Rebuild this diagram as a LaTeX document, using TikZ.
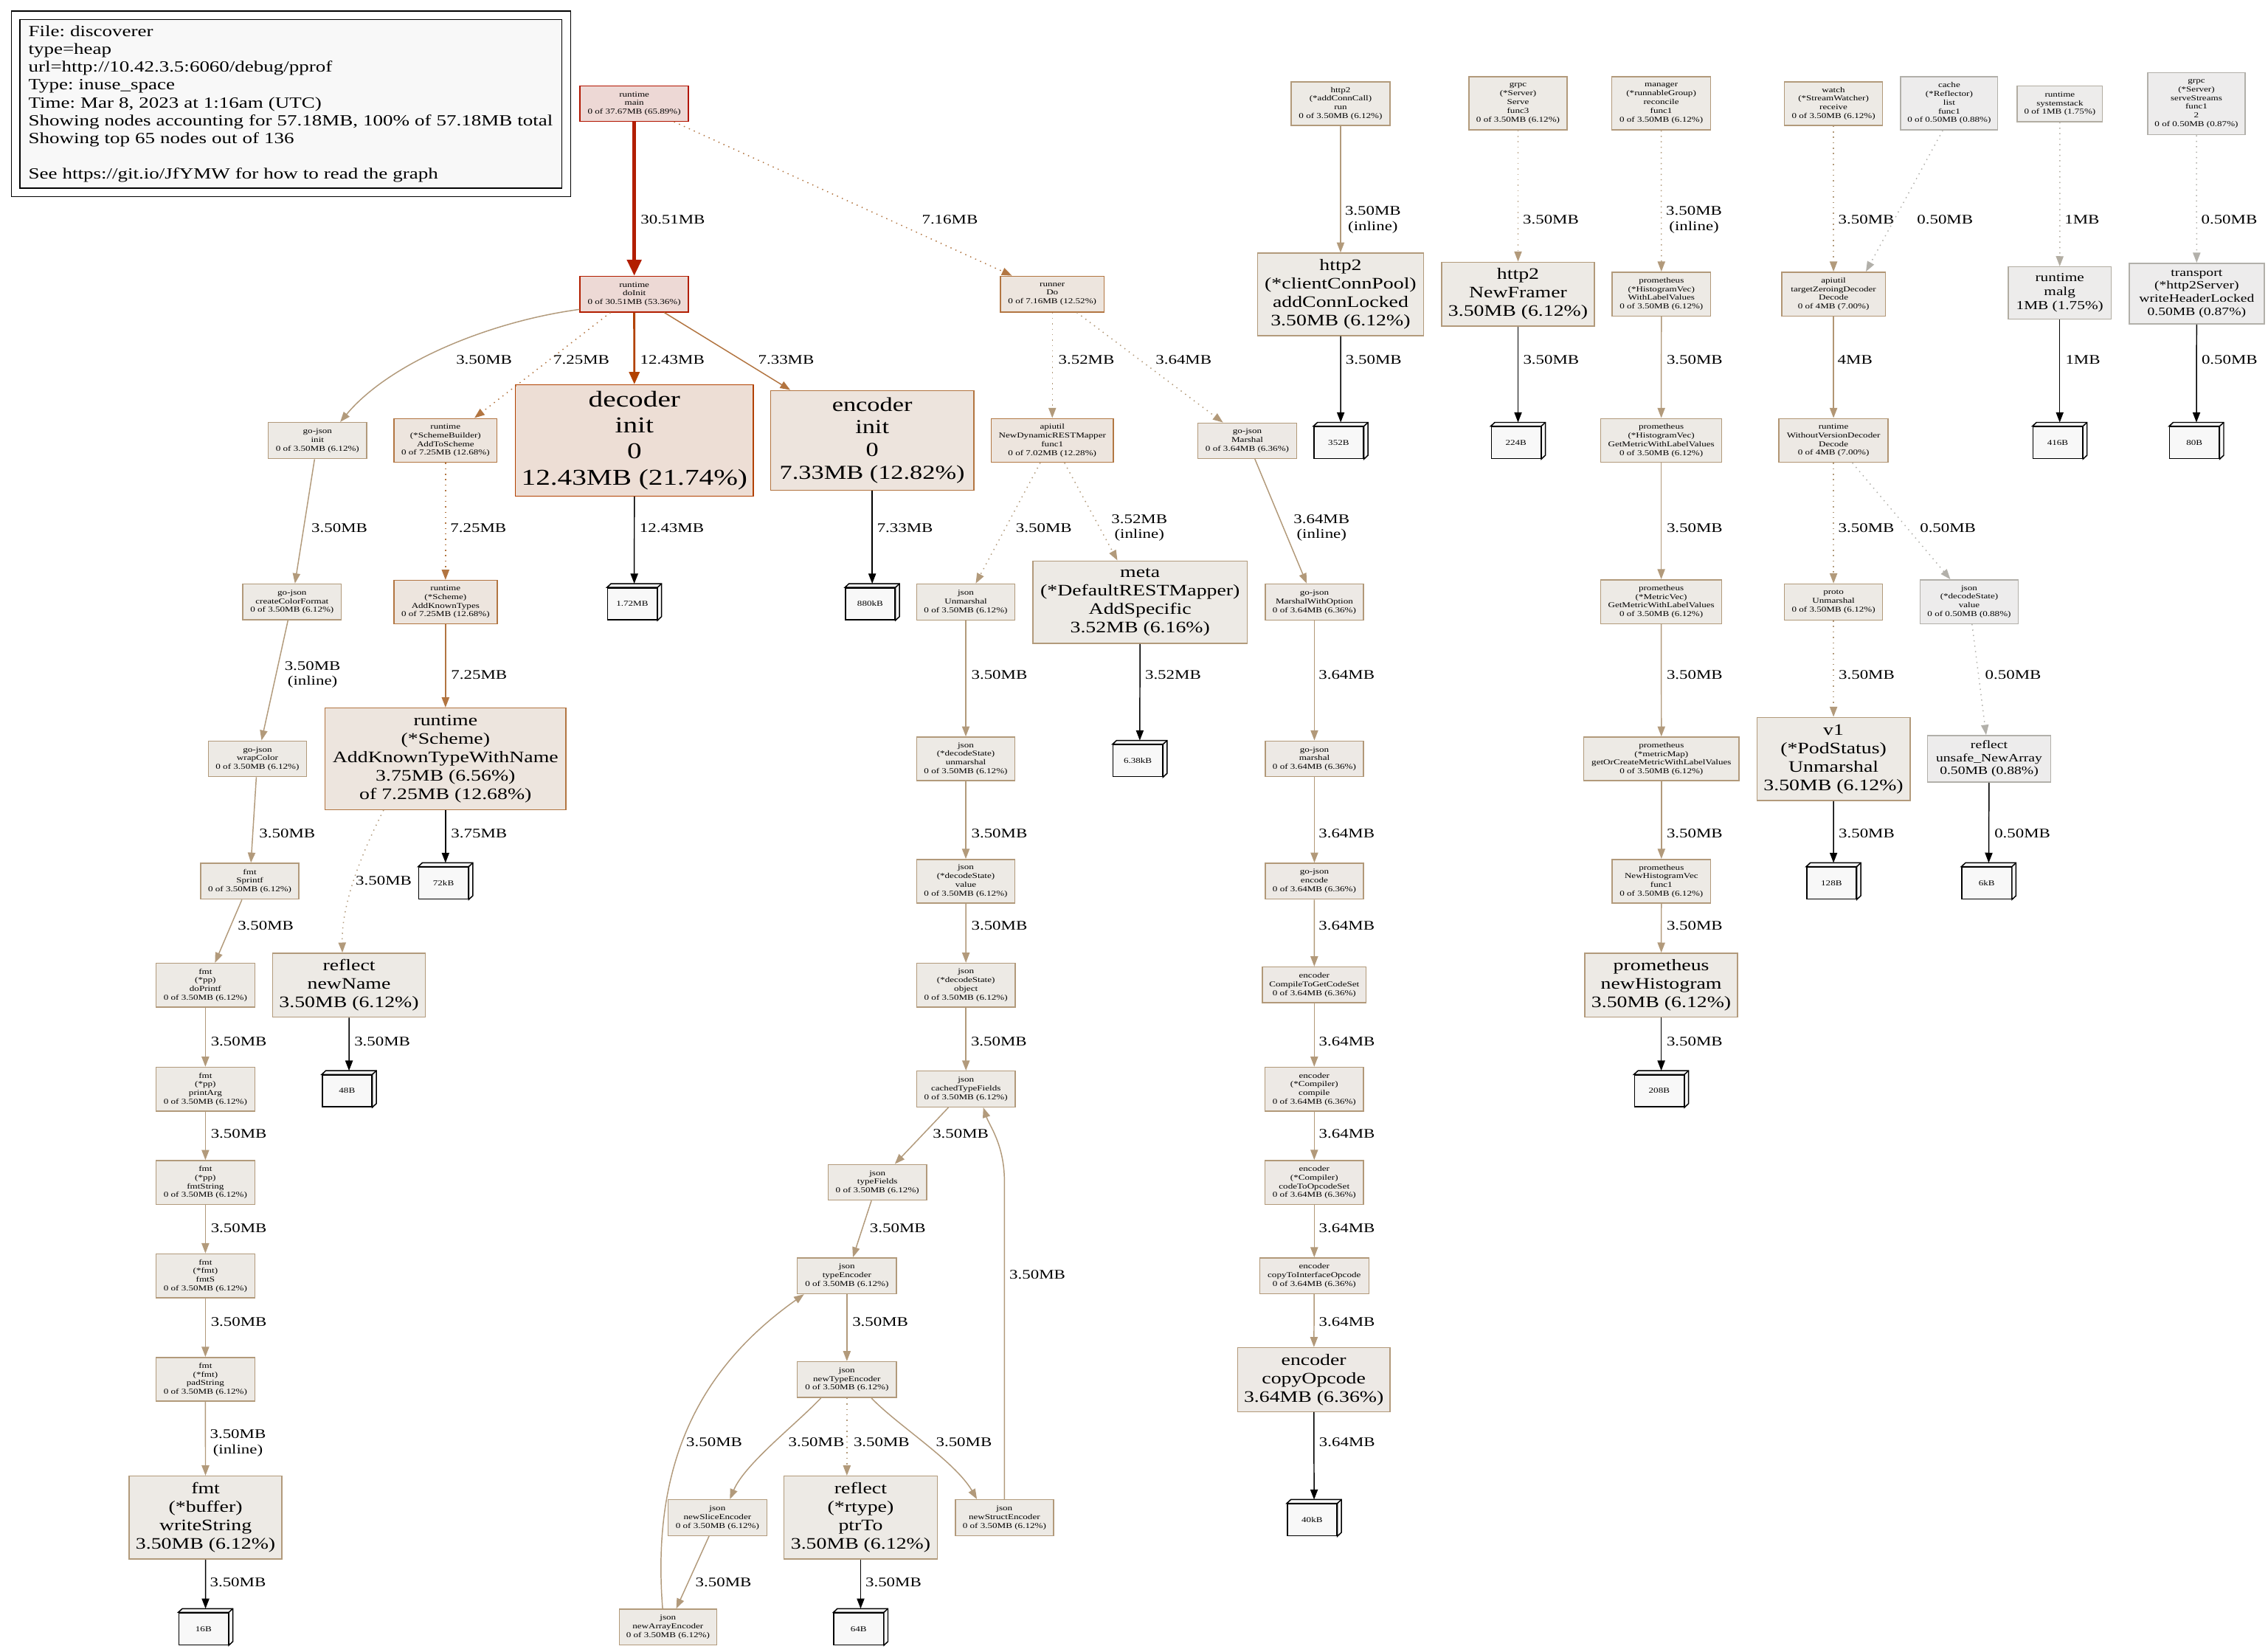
\documentclass[tikz,border=0pt]{standalone}
\usepackage{fontspec}
\setmainfont{Liberation Serif}[FakeStretch=1.28]
\usetikzlibrary{arrows.meta,fit}
\frenchspacing

% 颜色 (填充 f..., 边框 d...)
\definecolor{fMain}{HTML}{EDD8D5}\definecolor{dMain}{HTML}{B21500}
\definecolor{fInit}{HTML}{EDD9D5}\definecolor{dInit}{HTML}{B21E00}
\definecolor{fDec}{HTML}{EDDED5}\definecolor{dDec}{HTML}{B24100}
\definecolor{fEnc}{HTML}{EDE4DD}\definecolor{dEnc}{HTML}{B27440}
\definecolor{fSch}{HTML}{EDE5DE}\definecolor{dSch}{HTML}{B27541}
\definecolor{dDo}{HTML}{B27642}\definecolor{dRm}{HTML}{B27844}
\definecolor{fFour}{HTML}{EDE9E4}\definecolor{dFour}{HTML}{B29674}
\definecolor{fJs}{HTML}{EDE9E5}\definecolor{dJs}{HTML}{B29979}
\definecolor{fStd}{HTML}{EDEAE5}\definecolor{dStd}{HTML}{B29A7B}
\definecolor{fOne}{HTML}{EDECEB}\definecolor{dOne}{HTML}{B2ADA2}
\definecolor{fHalf}{HTML}{EDECEC}\definecolor{dHalf}{HTML}{B2B0AA}
\definecolor{leafgray}{HTML}{F8F8F8}

\newcommand{\gvsize}[1]{\fontsize{\fpeval{0.652*#1}}{\fpeval{0.75*#1}}\selectfont}

\tikzset{
  fn/.style={draw, line width=0.75pt, inner xsep=2pt, inner ysep=1pt, align=center, font=\gvsize{8}},
  sz/.style 2 args={minimum width=#1pt, minimum height=#2pt},
  big/.style={font=\gvsize{17}},
  nMain/.style={fill=fMain, draw=dMain},
  nInit/.style={fill=fInit, draw=dInit},
  nDec/.style={fill=fDec, draw=dDec},
  nEnc/.style={fill=fEnc, draw=dEnc},
  nSch/.style={fill=fSch, draw=dSch},
  nDo/.style={fill=fSch, draw=dDo},
  nRm/.style={fill=fSch, draw=dRm},
  nFour/.style={fill=fFour, draw=dFour},
  nJs/.style={fill=fJs, draw=dJs},
  nStd/.style={fill=fStd, draw=dStd},
  nOne/.style={fill=fOne, draw=dOne},
  nHalf/.style={fill=fHalf, draw=dHalf},
  leaf/.style={draw=black, fill=leafgray, line width=0.75pt, font=\gvsize{8}, minimum width=34.2pt, minimum height=22pt, inner sep=0pt},
  ed/.style={line width=0.75pt, -{Triangle[length=7pt,width=5.2pt]}},
  ed2/.style={line width=1.5pt, -{Triangle[length=8.5pt,width=7.2pt]}},
  ed3/.style={line width=2.25pt, -{Triangle[length=11pt,width=9.8pt]}},
  resid/.style={dash pattern=on 0.75pt off 3pt},
  elab/.style={font=\gvsize{14}, text=black, inner sep=0pt, anchor=west, align=center},
}

\begin{document}
\begin{tikzpicture}[x=1pt, y=-1pt]
    \fill[white] (0,0) rectangle (1568,1140);

    % 图例
    \node[fill=leafgray, draw=black, line width=0.75pt, minimum height=116.4pt, text width=363pt, inner xsep=5.9pt, align=left, font=\gvsize{16.5}] (legend) at (201.15,71.8)
        {File: discoverer\\type=heap\\url=http://10.42.3.5:6060/debug/pprof\\Type: inuse\_space\\Time: Mar 8, 2023 at 1:16am (UTC)\\Showing nodes accounting for 57.18MB, 100\% of 57.18MB total\\Showing top 65 nodes out of 136\\[12pt]See https://git.io/JfYMW for how to read the graph};
    \node[draw=black, line width=0.75pt, fit=(legend), inner sep=5.5pt] (legendframe) {};

    % 第一行
    \node[fn, nMain, sz={75}{24.3}] (main) at (438.5,71.7) {runtime\\main\\0 of 37.67MB (65.89\%)};
    \node[fn, nStd, sz={68.4}{30.2}] (h2run) at (926.8,71.6) {http2\\(*addConnCall)\\run\\0 of 3.50MB (6.12\%)};
    \node[fn, nStd, sz={67.8}{36.8}] (grpcserve) at (1049.5,71.4) {grpc\\(*Server)\\Serve\\func3\\0 of 3.50MB (6.12\%)};
    \node[fn, nStd, sz={68.4}{36.8}] (mgr) at (1148.5,71.4) {manager\\(*runnableGroup)\\reconcile\\func1\\0 of 3.50MB (6.12\%)};
    \node[fn, nStd, sz={67.9}{30.2}] (watch) at (1267.6,71.6) {watch\\(*StreamWatcher)\\receive\\0 of 3.50MB (6.12\%)};
    \node[fn, nHalf, sz={67.1}{36.8}] (cache) at (1347.6,71.4) {cache\\(*Reflector)\\list\\func1\\0 of 0.50MB (0.88\%)};
    \node[fn, nOne, sz={59}{24.7}] (sysst) at (1424.1,71.8) {runtime\\systemstack\\0 of 1MB (1.75\%)};
    \node[fn, nHalf, sz={67.3}{43}] (sstr) at (1518.5,71.7) {grpc\\(*Server)\\serveStreams\\func1\\2\\0 of 0.50MB (0.87\%)};

    % 第二行
    \node[fn, nInit, sz={75}{24.7}] (dinit) at (438.5,203.3) {runtime\\doInit\\0 of 30.51MB (53.36\%)};
    \node[fn, nDo, sz={71.5}{24.7}] (rdo) at (727.5,203.3) {runner\\Do\\0 of 7.16MB (12.52\%)};
    \node[fn, nStd, big, sz={114.8}{57}] (h2acl) at (926.8,203.5) {http2\\(*clientConnPool)\\addConnLocked\\3.50MB (6.12\%)};
    \node[fn, nStd, big, sz={105.6}{44.2}] (h2nf) at (1049.5,203.3) {http2\\NewFramer\\3.50MB (6.12\%)};
    \node[fn, nStd, sz={68.1}{30.3}] (promwlv) at (1148.6,203.3) {prometheus\\(*HistogramVec)\\WithLabelValues\\0 of 3.50MB (6.12\%)};
    \node[fn, nFour, sz={71.6}{30.3}] (tzd) at (1267.6,203.3) {apiutil\\targetZeroingDecoder\\Decode\\0 of 4MB (7.00\%)};
    \node[fn, nOne, font=\gvsize{13}, sz={71.3}{36}] (malg) at (1424,202.5) {runtime\\malg\\1MB (1.75\%)};
    \node[fn, nHalf, font=\gvsize{12}, sz={93.4}{42}] (transp) at (1518.7,203) {transport\\(*http2Server)\\writeHeaderLocked\\0.50MB (0.87\%)};

    % 第三行
    \node[fn, nStd, sz={68}{25}] (gjinit) at (219.5,304.6) {go-json\\init\\0 of 3.50MB (6.12\%)};
    \node[fn, nSch, sz={71.3}{30.3}] (addsch) at (308,304.5) {runtime\\(*SchemeBuilder)\\AddToScheme\\0 of 7.25MB (12.68\%)};
    \node[fn, nDec, font=\gvsize{24}, sz={164.5}{77}] (decinit) at (438.6,304.5) {decoder\\init\\0\\12.43MB (21.74\%)};
    \node[fn, nEnc, font=\gvsize{21}, sz={140.5}{69}] (encinit) at (603,304.5) {encoder\\init\\0\\7.33MB (12.82\%)};
    \node[fn, nRm, sz={84.3}{30.3}] (ndrm) at (727.5,304.5) {apiutil\\NewDynamicRESTMapper\\func1\\0 of 7.02MB (12.28\%)};
    \node[fn, nJs, sz={68.3}{24.5}] (gjmarsh) at (862.3,304.7) {go-json\\Marshal\\0 of 3.64MB (6.36\%)};
    \node[fn, nStd, sz={83.6}{30.3}] (promhgm) at (1148.5,304.5) {prometheus\\(*HistogramVec)\\GetMetricWithLabelValues\\0 of 3.50MB (6.12\%)};
    \node[fn, nFour, sz={75.4}{30.3}] (wvd) at (1267.6,304.5) {runtime\\WithoutVersionDecoder\\Decode\\0 of 4MB (7.00\%)};
    \node[leaf] (l352) at (925.5,306) {352B};
    \node[leaf] (l224) at (1048.1,306) {224B};
    \node[leaf] (l416) at (1422.6,306) {416B};
    \node[leaf] (l80) at (1517.1,306) {80B};

    % 第四行
    \node[fn, nStd, sz={68.2}{24.7}] (gjccf) at (201.9,416.1) {go-json\\createColorFormat\\0 of 3.50MB (6.12\%)};
    \node[fn, nSch, sz={71.4}{29.9}] (akt) at (308,416.2) {runtime\\(*Scheme)\\AddKnownTypes\\0 of 7.25MB (12.68\%)};
    \node[leaf] (l172) at (437.1,417.5) {1.72MB};
    \node[leaf] (l880) at (601.6,417.5) {880kB};
    \node[fn, nStd, sz={67.8}{24.9}] (jun) at (667.7,416.2) {json\\Unmarshal\\0 of 3.50MB (6.12\%)};
    \node[fn, nStd, big, sz={148.4}{57}] (meta) at (788.2,416.3) {meta\\(*DefaultRESTMapper)\\AddSpecific\\3.52MB (6.16\%)};
    \node[fn, nJs, sz={67.9}{24.9}] (gjmwo) at (908.7,416.2) {go-json\\MarshalWithOption\\0 of 3.64MB (6.36\%)};
    \node[fn, nStd, sz={83.6}{30.3}] (prommgm) at (1148.5,416) {prometheus\\(*MetricVec)\\GetMetricWithLabelValues\\0 of 3.50MB (6.12\%)};
    \node[fn, nStd, sz={67.8}{24.9}] (proto) at (1267.6,416.2) {proto\\Unmarshal\\0 of 3.50MB (6.12\%)};
    \node[fn, nHalf, sz={67.8}{30.3}] (jdsv5) at (1361.4,416) {json\\(*decodeState)\\value\\0 of 0.50MB (0.88\%)};

    % 第五行
    \node[fn, nStd, sz={68}{24.7}] (gjwc) at (178,524.6) {go-json\\wrapColor\\0 of 3.50MB (6.12\%)};
    \node[fn, nSch, big, sz={166.4}{70.2}] (akn) at (308,524.6) {runtime\\(*Scheme)\\AddKnownTypeWithName\\3.75MB (6.56\%)\\of 7.25MB (12.68\%)};
    \node[fn, nStd, sz={67.8}{30.1}] (jdsu) at (667.7,524.6) {json\\(*decodeState)\\unmarshal\\0 of 3.50MB (6.12\%)};
    \node[leaf] (l638) at (786.6,525.9) {6.38kB};
    \node[fn, nJs, sz={67.9}{24.7}] (gjm) at (908.7,524.6) {go-json\\marshal\\0 of 3.64MB (6.36\%)};
    \node[fn, nStd, sz={107.4}{30.1}] (promgoc) at (1148.6,524.6) {prometheus\\(*metricMap)\\getOrCreateMetricWithLabelValues\\0 of 3.50MB (6.12\%)};
    \node[fn, nStd, big, sz={105.8}{57.5}] (podst) at (1267.6,524.7) {v1\\(*PodStatus)\\Unmarshal\\3.50MB (6.12\%)};
    \node[fn, nHalf, font=\gvsize{12}, sz={85.2}{32.2}] (rnewarr) at (1375.2,524.6) {reflect\\unsafe\_NewArray\\0.50MB (0.88\%)};

    % 第六行
    \node[fn, nStd, sz={68}{24.8}] (fsp) at (172.7,609.2) {fmt\\Sprintf\\0 of 3.50MB (6.12\%)};
    \node[leaf] (l72) at (306.6,610.5) {72kB};
    \node[fn, nStd, sz={67.8}{30.1}] (jdsv) at (667.7,609.2) {json\\(*decodeState)\\value\\0 of 3.50MB (6.12\%)};
    \node[fn, nJs, sz={67.9}{24.8}] (gje) at (908.7,609.2) {go-json\\encode\\0 of 3.64MB (6.36\%)};
    \node[fn, nStd, sz={68.1}{30.1}] (promnhv) at (1148.6,609.2) {prometheus\\NewHistogramVec\\func1\\0 of 3.50MB (6.12\%)};
    \node[leaf] (l128) at (1266.2,610.5) {128B};
    \node[leaf] (l6k) at (1373.5,610.5) {6kB};

    % 第七行
    \node[fn, nStd, sz={68.2}{30.3}] (fdp) at (142,681.1) {fmt\\(*pp)\\doPrintf\\0 of 3.50MB (6.12\%)};
    \node[fn, nStd, big, sz={105.7}{44.2}] (rnn) at (241.3,681.1) {reflect\\newName\\3.50MB (6.12\%)};
    \node[fn, nStd, sz={68.2}{30.3}] (jdso) at (667.8,681.1) {json\\(*decodeState)\\object\\0 of 3.50MB (6.12\%)};
    \node[fn, nJs, sz={71.5}{24.8}] (ectg) at (908.6,680.9) {encoder\\CompileToGetCodeSet\\0 of 3.64MB (6.36\%)};
    \node[fn, nStd, big, sz={105.6}{44.2}] (promnh) at (1148.5,681.1) {prometheus\\newHistogram\\3.50MB (6.12\%)};

    % 第八行
    \node[fn, nStd, sz={68.2}{30.3}] (fpa) at (142,753) {fmt\\(*pp)\\printArg\\0 of 3.50MB (6.12\%)};
    \node[leaf] (l48) at (239.9,754.2) {48B};
    \node[fn, nStd, sz={68.2}{24.8}] (jctf) at (667.8,752.9) {json\\cachedTypeFields\\0 of 3.50MB (6.12\%)};
    \node[fn, nJs, sz={68}{30.3}] (ecomp) at (908.6,753) {encoder\\(*Compiler)\\compile\\0 of 3.64MB (6.36\%)};
    \node[leaf] (l208) at (1147.1,754.2) {208B};

    % 第九到十一行
    \node[fn, nStd, sz={68.2}{30.3}] (ffs) at (142,817.5) {fmt\\(*pp)\\fmtString\\0 of 3.50MB (6.12\%)};
    \node[fn, nStd, sz={68.2}{24.6}] (jtf) at (606.6,817.4) {json\\typeFields\\0 of 3.50MB (6.12\%)};
    \node[fn, nJs, sz={68}{30.5}] (ecto) at (908.6,817.5) {encoder\\(*Compiler)\\codeToOpcodeSet\\0 of 3.64MB (6.36\%)};
    \node[fn, nStd, sz={68.2}{30.3}] (ffmts) at (142,882) {fmt\\(*fmt)\\fmtS\\0 of 3.50MB (6.12\%)};
    \node[fn, nStd, sz={68.5}{24.8}] (jte) at (585.5,882) {json\\typeEncoder\\0 of 3.50MB (6.12\%)};
    \node[fn, nJs, sz={75.5}{24.8}] (ecti) at (908.6,882) {encoder\\copyToInterfaceOpcode\\0 of 3.64MB (6.36\%)};
    \node[fn, nStd, sz={68.2}{30.3}] (fpad) at (142,953.6) {fmt\\(*fmt)\\padString\\0 of 3.50MB (6.12\%)};
    \node[fn, nStd, sz={68.5}{24.8}] (jnte) at (585.5,953.8) {json\\newTypeEncoder\\0 of 3.50MB (6.12\%)};
    \node[fn, nJs, big, sz={105.4}{44.2}] (ecop) at (908.3,953.8) {encoder\\copyOpcode\\3.64MB (6.36\%)};

    % 底部
    \node[fn, nStd, big, sz={105.6}{57.4}] (fws) at (142.1,1049.2) {fmt\\(*buffer)\\writeString\\3.50MB (6.12\%)};
    \node[fn, nStd, sz={68.3}{24.8}] (jnse) at (496,1049.2) {json\\newSliceEncoder\\0 of 3.50MB (6.12\%)};
    \node[fn, nStd, big, sz={106.1}{57.4}] (rpt) at (595,1049.2) {reflect\\(*rtype)\\ptrTo\\3.50MB (6.12\%)};
    \node[fn, nStd, sz={67.9}{24.8}] (jnste) at (694.4,1049.2) {json\\newStructEncoder\\0 of 3.50MB (6.12\%)};
    \node[leaf] (l40) at (907.1,1050.7) {40kB};
    \node[leaf] (l16) at (140.7,1126.1) {16B};
    \node[fn, nStd, sz={67.4}{24.6}] (jnae) at (461.8,1124.8) {json\\newArrayEncoder\\0 of 3.50MB (6.12\%)};
    \node[leaf] (l64) at (593.6,1126.1) {64B};

    % 立体盒子的侧面
    \foreach \n in {l352,l224,l416,l80,l172,l880,l638,l72,l128,l6k,l48,l208,l40,l16,l64} {
        \filldraw[fill=leafgray, draw=black, line width=0.75pt]
            (\n.north west) -- ([xshift=2.8pt,yshift=2.6pt]\n.north west)
            -- ([xshift=2.8pt,yshift=2.6pt]\n.north east) -- ([xshift=2.8pt,yshift=2.6pt]\n.south east)
            -- (\n.south east) -- (\n.north east) -- cycle;
        \draw[line width=0.75pt] (\n.north east) -- ([xshift=2.8pt,yshift=2.6pt]\n.north east);
    }

    % 边: 第一段
    \draw[ed3, dInit] (main) -- (dinit) node[elab] at (441.8,152) {30.51MB};
    \draw[ed, dDo, resid] (main) -- (rdo) node[elab] at (637,152) {7.16MB};
    \draw[ed, dStd] (h2run) -- (h2acl) node[elab] at (929.5,152) {3.50MB\\(inline)};
    \draw[ed, dStd, resid] (grpcserve) -- (h2nf) node[elab] at (1052.5,152) {3.50MB};
    \draw[ed, dStd, resid] (mgr) -- (promwlv) node[elab] at (1151.5,152) {3.50MB\\(inline)};
    \draw[ed, dStd, resid] (watch) -- (tzd) node[elab] at (1270.6,152) {3.50MB};
    \draw[ed, dHalf, resid] ([xshift=-4.5pt]cache.south) -- ([xshift=22.4pt]tzd.north) node[elab] at (1325,152) {0.50MB};
    \draw[ed, dOne, resid] (sysst) -- (malg) node[elab] at (1427,152) {1MB};
    \draw[ed, dHalf, resid] (sstr) -- (transp) node[elab] at (1521.5,152) {0.50MB};

    % 边: 第二段
    \draw[ed, dStd] ([yshift=-10.6pt]dinit.west) .. controls (340,222) and (270,250) .. ([xshift=15.7pt]gjinit.north) node[elab] at (315,248.7) {3.50MB};
    \draw[ed, dSch, resid] (dinit) -- (addsch) node[elab] at (382.3,248.7) {7.25MB};
    \draw[ed2, dDec] (dinit) -- (decinit) node[elab] at (441.8,248.7) {12.43MB};
    \draw[ed, dEnc] (dinit) -- (encinit) node[elab] at (523.8,248.7) {7.33MB};
    \draw[ed, dStd, resid] (rdo) -- (ndrm) node[elab] at (731.4,248.7) {3.52MB};
    \draw[ed, dJs, resid] (rdo) -- (gjmarsh) node[elab] at (798.6,248.7) {3.64MB};
    \draw[ed, black] (h2acl) -- ([xshift=1.4pt,yshift=2.6pt]l352.north) node[elab] at (930,248.7) {3.50MB};
    \draw[ed, black] (h2nf) -- ([xshift=1.4pt,yshift=2.6pt]l224.north) node[elab] at (1052.7,248.7) {3.50MB};
    \draw[ed, dStd] (promwlv) -- (promhgm) node[elab] at (1151.9,248.7) {3.50MB};
    \draw[ed, dFour] (tzd) -- (wvd) node[elab] at (1270.1,248.7) {4MB};
    \draw[ed, black] (malg) -- ([xshift=1.4pt,yshift=2.6pt]l416.north) node[elab] at (1427.6,248.7) {1MB};
    \draw[ed, black] (transp) -- ([xshift=1.4pt,yshift=2.6pt]l80.north) node[elab] at (1521.7,248.7) {0.50MB};

    % 边: 第三段
    \draw[ed, dStd] (gjinit) -- (gjccf) node[elab] at (215,365) {3.50MB};
    \draw[ed, dSch, resid] (addsch) -- (akt) node[elab] at (311,365) {7.25MB};
    \draw[ed, black] (decinit) -- ([xshift=1.4pt,yshift=2.6pt]l172.north) node[elab] at (441.8,365) {12.43MB};
    \draw[ed, black] (encinit) -- ([xshift=1.4pt,yshift=2.6pt]l880.north) node[elab] at (606,365) {7.33MB};
    \draw[ed, dStd, resid] (ndrm) -- (jun) node[elab] at (702,365) {3.50MB};
    \draw[ed, dStd, resid] (ndrm) -- (meta) node[elab] at (768,365) {3.52MB\\(inline)};
    \draw[ed, dJs] (gjmarsh) -- (gjmwo) node[elab] at (894,365) {3.64MB\\(inline)};
    \draw[ed, dStd] (promhgm) -- (prommgm) node[elab] at (1151.9,365) {3.50MB};
    \draw[ed, dStd, resid] (wvd) -- (proto) node[elab] at (1270.6,365) {3.50MB};
    \draw[ed, dHalf, resid] (wvd) -- (jdsv5) node[elab] at (1327,365) {0.50MB};

    % 边: 第四段
    \draw[ed, dStd] (gjccf) -- (gjwc) node[elab] at (196.4,466.5) {3.50MB\\(inline)};
    \draw[ed, dSch] (akt) -- (akn) node[elab] at (311.5,466.4) {7.25MB};
    \draw[ed, dStd] (jun) -- (jdsu) node[elab] at (671.2,466.4) {3.50MB};
    \draw[ed, black] (meta) -- ([xshift=1.4pt,yshift=2.6pt]l638.north) node[elab] at (791.3,466.4) {3.52MB};
    \draw[ed, dJs] (gjmwo) -- (gjm) node[elab] at (911.3,466.4) {3.64MB};
    \draw[ed, dStd] (prommgm) -- (promgoc) node[elab] at (1151.9,466.4) {3.50MB};
    \draw[ed, dStd, resid] (proto) -- (podst) node[elab] at (1270.8,466.4) {3.50MB};
    \draw[ed, dHalf, resid] (jdsv5) -- (rnewarr) node[elab] at (1372.1,466.4) {0.50MB};

    % 边: 第五段
    \draw[ed, dStd] (gjwc) -- (fsp) node[elab] at (178.9,576) {3.50MB};
    \draw[ed, dStd, resid] ([xshift=-42.8pt]akn.south) .. controls (250,590) and (236,625) .. ([xshift=-4.6pt]rnn.north) node[elab] at (245.6,608.7) {3.50MB};
    \draw[ed, black] (akn) -- ([xshift=1.4pt,yshift=2.6pt]l72.north) node[elab] at (311.5,576) {3.75MB};
    \draw[ed, dStd] (jdsu) -- (jdsv) node[elab] at (671.2,576) {3.50MB};
    \draw[ed, dJs] (gjm) -- (gje) node[elab] at (911.3,576) {3.64MB};
    \draw[ed, dStd] (promgoc) -- (promnhv) node[elab] at (1151.9,576) {3.50MB};
    \draw[ed, black] (podst) -- ([xshift=1.4pt,yshift=2.6pt]l128.north) node[elab] at (1270.8,576) {3.50MB};
    \draw[ed, black] (rnewarr) -- ([xshift=1.4pt,yshift=2.6pt]l6k.north) node[elab] at (1378.5,576) {0.50MB};

    % 边: 第六至第十段
    \draw[ed, dStd] (fsp) -- (fdp) node[elab] at (164,640) {3.50MB};
    \draw[ed, dStd] (jdsv) -- (jdso) node[elab] at (671.2,640) {3.50MB};
    \draw[ed, dJs] (gje) -- (ectg) node[elab] at (911.3,640) {3.64MB};
    \draw[ed, dStd] (promnhv) -- (promnh) node[elab] at (1151.9,640) {3.50MB};

    \draw[ed, dStd] (fdp) -- (fpa) node[elab] at (145.4,720) {3.50MB};
    \draw[ed, black] (rnn) -- ([xshift=1.4pt,yshift=2.6pt]l48.north) node[elab] at (244.6,720) {3.50MB};
    \draw[ed, dStd] (jdso) -- (jctf) node[elab] at (670.9,720) {3.50MB};
    \draw[ed, dJs] (ectg) -- (ecomp) node[elab] at (911.5,720) {3.64MB};
    \draw[ed, black] (promnh) -- ([xshift=1.4pt,yshift=2.6pt]l208.north) node[elab] at (1151.9,720) {3.50MB};

    \draw[ed, dStd] (fpa) -- (ffs) node[elab] at (145.4,784) {3.50MB};
    \draw[ed, dStd] (jctf) -- (jtf) node[elab] at (644.5,784) {3.50MB};
    \draw[ed, dJs] (ecomp) -- (ecto) node[elab] at (911.5,784) {3.64MB};

    \draw[ed, dStd] (ffs) -- (ffmts) node[elab] at (145.4,849) {3.50MB};
    \draw[ed, dStd] (jtf) -- (jte) node[elab] at (601,849) {3.50MB};
    \draw[ed, dJs] (ecto) -- (ecti) node[elab] at (911.5,849) {3.64MB};
    \draw[ed, dStd] (jnste.north) -- ++(0,-220) .. controls +(0,-25) and +(4,12) .. ([xshift=12pt]jctf.south) node[elab] at (697.5,881) {3.50MB};

    \draw[ed, dStd] (ffmts) -- (fpad) node[elab] at (145.4,913.7) {3.50MB};
    \draw[ed, dStd] (jte) -- (jnte) node[elab] at (588.9,913.7) {3.50MB};
    \draw[ed, dJs] (ecti) -- (ecop) node[elab] at (911.5,913.7) {3.64MB};

    % 边: 底部
    \draw[ed, dStd] (fpad) -- (fws) node[elab] at (144.8,997.6) {3.50MB\\(inline)};
    \draw[ed, dStd] ([xshift=-3.7pt]jnae.north) .. controls (450,1010) and (485,945) .. ([xshift=5pt]jte.south west) node[elab] at (474.1,997.2) {3.50MB};
    \draw[ed, dStd] ([xshift=-18pt]jnte.south) .. controls (550,985) and (515,1012) .. ([xshift=8.6pt]jnse.north) node[elab] at (544.7,997.2) {3.50MB};
    \draw[ed, dStd, resid] (jnte.south) -- (jnte.south |- rpt.north) node[elab] at (589.8,997.2) {3.50MB};
    \draw[ed, dStd] ([xshift=17pt]jnte.south) .. controls (620,985) and (660,1010) .. ([xshift=-19pt]jnste.north) node[elab] at (646.7,997.2) {3.50MB};
    \draw[ed, black] (ecop) -- ([xshift=1.4pt,yshift=2.6pt]l40.north) node[elab] at (911.6,997.2) {3.64MB};
    \draw[ed, dStd] (jnse) -- (jnae) node[elab] at (480.5,1094.1) {3.50MB};
    \draw[ed, black] (fws) -- ([xshift=1.4pt,yshift=2.6pt]l16.north) node[elab] at (144.8,1094.1) {3.50MB};
    \draw[ed, black] (rpt) -- ([xshift=1.4pt,yshift=2.6pt]l64.north) node[elab] at (598,1094.1) {3.50MB};
\end{tikzpicture}
\end{document}
